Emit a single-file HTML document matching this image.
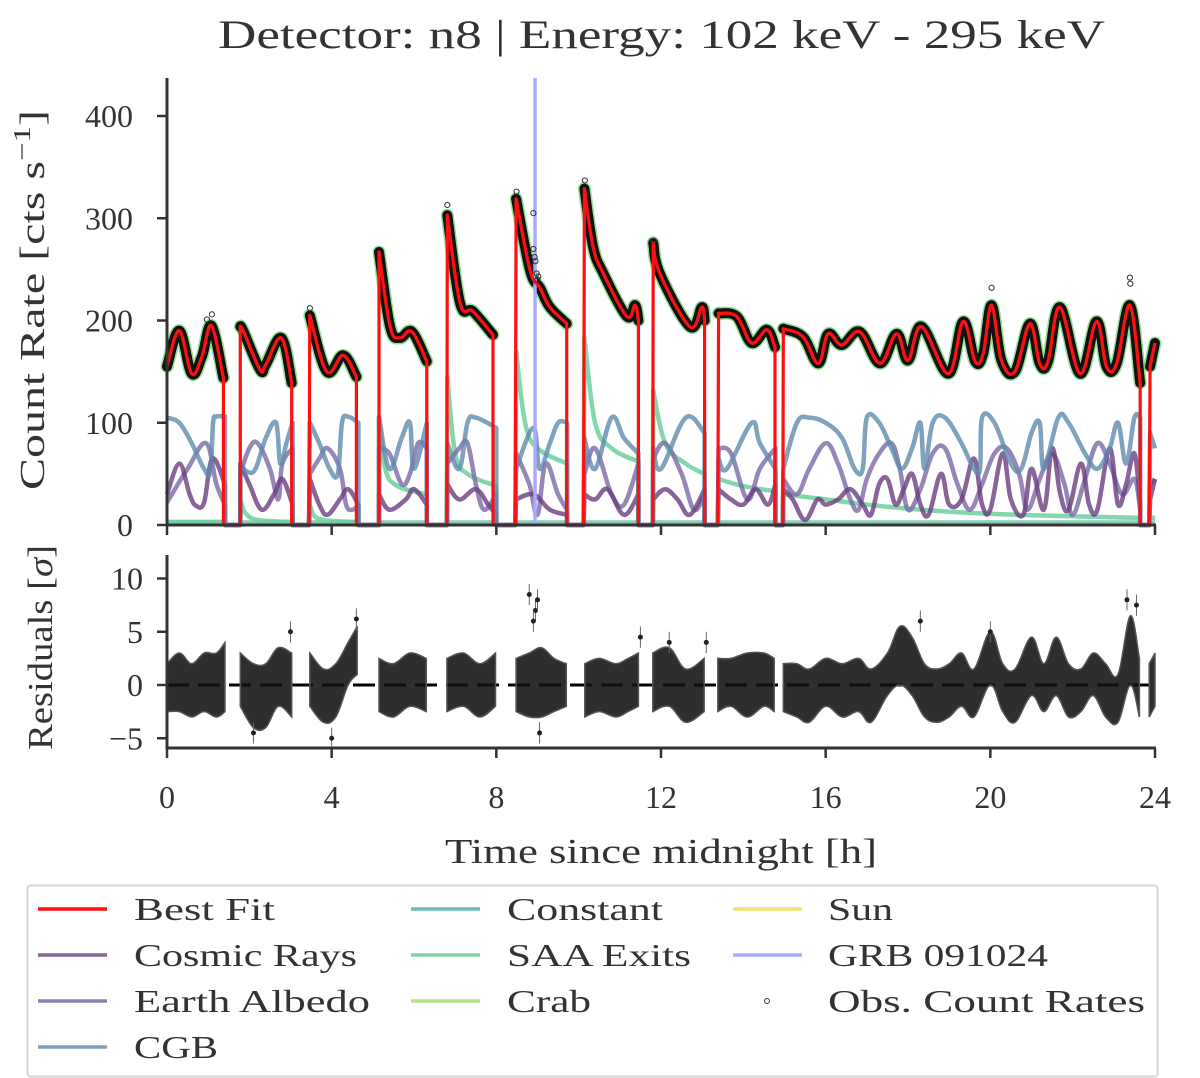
<!DOCTYPE html>
<html><head><meta charset="utf-8"><style>
html,body{margin:0;padding:0;background:#fff;}
svg{display:block;font-family:"Liberation Serif","DejaVu Serif",serif;}
</style></head><body>
<svg id="chart" width="1200" height="1078" viewBox="0 0 1200 1078" xmlns="http://www.w3.org/2000/svg">
<text x="218" y="48" font-size="40" fill="#333" textLength="887" lengthAdjust="spacingAndGlyphs">Detector: n8 | Energy: 102 keV - 295 keV</text>
<g id="upper"></g>
<g id="lower"></g>
<g id="axes"></g>
<text transform="translate(44,490) rotate(-90)" font-size="35" fill="#333" textLength="380" lengthAdjust="spacingAndGlyphs">Count Rate [cts s<tspan dy="-14" font-size="24">−1</tspan><tspan dy="14">]</tspan></text>
<text transform="translate(52,750) rotate(-90)" font-size="35" fill="#333" textLength="205" lengthAdjust="spacingAndGlyphs">Residuals [<tspan font-style="italic">σ</tspan>]</text>
<text x="445" y="863" font-size="35" fill="#333" textLength="432" lengthAdjust="spacingAndGlyphs">Time since midnight [h]</text>
<g>
<rect x="27.5" y="885.5" width="1130" height="191" fill="#fff" stroke="#d6d6d6" stroke-width="2" rx="3"/>
<g id="legend-entries"></g>
</g>
</svg>
<script>
// ---------- data ----------
const segStarts = [0, 1.78, 3.45, 5.15, 6.80, 8.46, 10.12, 11.80, 13.38, 14.96, 23.86];
const segEnds   = [1.41, 3.05, 4.65, 6.31, 8.00, 9.72, 11.45, 13.06, 14.78, 23.64, 24.0];
const fitT = [
 [0,0.3,0.6,0.85,1.08,1.37],
 [1.78,1.85,2.26,2.4,2.78,3.03],
 [3.47,3.88,4.28,4.6],
 [5.15,5.42,5.66,5.95,6.31],
 [6.81,7.12,7.43,7.92],
 [8.48,8.82,9.06,9.3,9.71],
 [10.14,10.35,10.6,11.17,11.37,11.45],
 [11.81,11.97,12.7,12.99,13.06],
 [13.4,13.84,14.2,14.57,14.77],
 [14.97,15.45,15.82,16.06,16.39,16.83,17.32,17.72,18.0,18.33,18.98,19.34,19.63,19.83,20.03,20.27,20.6,20.96,21.2,21.4,21.69,22.18,22.58,22.82,23.07,23.39,23.64],
 [23.88,24.0]
];
const fitV = [
 [155,190,148,165,195,144],
 [194,190,152,157,183,139],
 [205,150,166,145],
 [267,194,183,189,160],
 [303,217,209,186],
 [319,249,232,213,197],
 [329,272,246,204,215,200],
 [276,246,194,213,200],
 [207,204,178,191,174],
 [192,184,158,187,176,189,158,187,161,194,148,199,160,168,215,161,150,197,158,160,213,148,199,155,158,215,139],
 [155,178]
];
const cgbT = [
 [0,0.3,0.6,0.9,1.05,1.12,1.2,1.41],
 [1.78,1.95,2.15,2.4,2.65,2.75,2.9,3.05],
 [3.47,3.7,3.95,4.15,4.25,4.4,4.65],
 [5.15,5.4,5.7,5.9,6.0,6.31],
 [6.81,7.1,7.3,7.5,8.0],
 [8.48,8.9,9.05,9.3,9.5,9.72],
 [10.14,10.4,10.8,11.1,11.45],
 [11.81,12.0,12.6,13.06],
 [13.4,13.6,14.2,14.4,14.78],
 [14.97,15.3,15.6,16.0,16.4,16.7,16.9,17.0,17.3,17.6,17.85,18.1,18.3,18.4,18.6,18.9,19.3,19.6,19.75,19.8,20.1,20.5,20.75,21.0,21.2,21.3,21.65,21.9,22.3,22.6,22.9,23.1,23.3,23.5,23.64],
 [23.88,24.0]
];
const cgbV = [
 [105,100,80,55,52,100,106,106],
 [60,52,55,85,100,60,80,100],
 [100,80,55,50,100,106,100],
 [106,55,85,100,55,100],
 [80,55,100,105,95],
 [55,95,55,80,100,100],
 [85,55,105,85,70],
 [75,55,105,90],
 [65,55,100,80,55],
 [55,100,105,100,85,55,55,105,100,75,55,75,100,55,100,105,80,55,55,105,100,60,55,90,100,55,105,100,70,55,75,100,60,105,105],
 [90,75]
];
const crT = [
 [0,0.3,0.55,0.7,0.9,1.1,1.41],
 [1.78,2.0,2.3,2.6,2.8,3.05],
 [3.47,3.7,3.9,4.2,4.4,4.65],
 [5.15,5.4,5.8,6.0,6.31],
 [6.81,7.1,7.5,7.8,8.0],
 [8.48,8.9,9.3,9.72],
 [10.14,10.4,10.7,11.1,11.45],
 [11.81,12.1,12.4,12.7,13.06],
 [13.4,13.7,14.0,14.3,14.6,14.78],
 [14.97,15.2,15.5,15.8,16.0,16.3,16.6,16.9,17.1,17.3,17.5,17.7,17.9,18.1,18.3,18.5,18.8,19.0,19.3,19.6,19.8,20.0,20.3,20.5,20.8,21.0,21.3,21.5,21.7,21.9,22.2,22.4,22.6,22.9,23.1,23.3,23.5,23.64],
 [23.88,24.0]
];
const crV = [
 [30,60,30,19,22,65,40],
 [60,40,15,30,45,20],
 [45,20,10,25,35,20],
 [30,15,25,35,20],
 [40,25,35,20,10],
 [25,30,15,10],
 [30,25,35,10,30],
 [25,35,25,10,35],
 [35,25,20,35,20,40],
 [35,25,5,25,20,25,35,20,10,40,45,20,35,50,20,10,50,20,25,65,20,15,70,25,10,55,15,75,30,15,60,20,15,75,20,40,70,20],
 [25,45]
];
const alT = [
 [0,0.5,0.95,1.2,1.41],
 [1.78,2.0,2.2,2.5,2.7,2.8,3.05],
 [3.47,3.7,3.9,4.2,4.35,4.5,4.65],
 [5.15,5.4,5.7,5.9,6.1,6.31],
 [6.81,7.1,7.3,7.5,7.7,8.0],
 [8.48,8.8,9.0,9.2,9.5,9.72],
 [10.14,10.4,10.8,11.1,11.45],
 [11.81,12.1,12.5,12.8,13.06],
 [13.4,13.7,14.1,14.4,14.78],
 [14.97,15.3,15.6,16.0,16.3,16.6,16.8,17.0,17.3,17.6,17.8,18.0,18.3,18.6,18.9,19.2,19.5,19.8,20.1,20.4,20.7,20.9,21.2,21.5,21.8,22.0,22.3,22.6,22.9,23.2,23.5,23.64],
 [23.88,24.0]
];
const alV = [
 [22,55,80,40,20],
 [50,75,80,55,25,60,75],
 [50,65,75,55,20,15,20],
 [75,70,40,50,80,75],
 [60,75,80,40,15,30],
 [70,40,10,60,30,15],
 [50,75,30,20,60],
 [65,80,50,15,30],
 [75,70,25,55,75],
 [45,30,55,80,60,25,15,45,70,80,55,15,35,70,75,40,15,40,70,75,50,15,45,70,40,10,45,80,60,30,45,15],
 [40,45]
];
const saaT = [
 [0,1.41],
 [1.78,1.9,2.2,3.05],
 [3.47,3.6,4.0,4.65],
 [5.15,5.3,5.6,6.31],
 [6.81,7.0,7.3,8.0],
 [8.48,8.7,9.0,9.72],
 [10.14,10.4,10.8,11.45],
 [11.81,12.1,12.6,13.06],
 [13.4,14.0,14.78],
 [14.97,16,17,18,19,20,21,22,23,23.64],
 [23.88,24.0]
];
const saaV = [
 [3,3],
 [25,12,5,3],
 [20,8,4,3],
 [105,55,38,30],
 [145,70,50,38],
 [170,100,75,60],
 [183,100,75,62],
 [132,80,60,50],
 [45,38,33],
 [30,25,20,16,13,11,9.5,8.5,7.5,7],
 [7,7]
];
const constVal = 3, crabVal = 1.8, sunVal = 0.8;
const grbTime = 8.94;
const outT = [0.97,1.09,3.47,6.81,8.49,8.9,8.9,8.93,8.95,8.98,9.0,9.02,10.15,11.82,20.03,23.39,23.4];
const outV = [201,206,212,313,326,305,270,262,258,246,240,243,337,278,232,242,236];
// residuals
const resT = [
 [0,0.3,0.6,0.9,1.2,1.41],
 [1.78,2.1,2.4,2.7,3.03],
 [3.47,3.8,4.1,4.4,4.62],
 [5.15,5.5,5.9,6.3],
 [6.8,7.2,7.6,7.98],
 [8.48,8.8,9.1,9.4,9.7],
 [10.15,10.5,10.9,11.2,11.45],
 [11.8,12.2,12.6,13.05],
 [13.38,13.7,14.1,14.5,14.75],
 [14.97,15.3,15.6,16.0,16.4,16.8,17.1,17.5,17.8,18.1,18.4,18.7,19.0,19.3,19.6,20.0,20.3,20.6,21.0,21.3,21.6,21.9,22.2,22.5,22.8,23.1,23.4,23.62],
 [23.86,24.0]
];
const resLo = [
 [-2.5,-2.5,-3,-2.5,-3,-2.5],
 [-2,-4,-4,-2,-3],
 [-2,-3.5,-3,0,1],
 [-2.5,-3,-2,-2.5],
 [-2.5,-2,-3,-2],
 [-2.5,-3,-3,-2.5,-2],
 [-3,-2.5,-3,-2.5,-2],
 [-2.5,-2,-3.5,-2.5],
 [-2.5,-2,-3,-2,-2.5],
 [-2.5,-3,-3.5,-2,-3,-2.5,-3.5,-1,0,-1,-3,-3.5,-3,-2,-3,0,-2.5,-3.5,-1,-2.5,-1,-3,-2.5,-1,-3,-3.5,0,-3],
 [-3,-2]
];
const resHi = [
 [2,3,2,3,3,4],
 [3,2,2,3.5,3],
 [3,1.5,2,4,5.5],
 [2.5,2,3,2.5],
 [2.5,3,2,3],
 [2.5,3,3.5,2.5,2],
 [2,2.5,2,2.5,3],
 [3,3.5,1.5,2.5],
 [2.5,2.5,3,3,2.5],
 [2,2,1.5,2.5,2,2.5,1.5,3,5.5,4.5,2,1.5,2,3,1.5,5,2,1.5,4.5,2,4.5,2,1.5,3,2,1,6.5,2.5],
 [2,3]
];
const resOutT = [8.8,8.95,9.0,8.9,4.6,23.32,23.55,4.0,11.5,3.0,12.2,9.05,2.1,13.1,18.3,20.0];
const resOutV = [8.5,7,8,6,6.2,8,7.5,-5,4.5,5,4,-4.5,-4.5,4,6,5];
const yTicks = [0,100,200,300,400];
const rTicks = [-5,0,5,10];
const xTicks = [0,4,8,12,16,20,24];
const rTickLabels = ["−5","0","5","10"];

// ---------- scales ----------
const X0=167, X1=1155;
const xs = h => X0 + (X1-X0)*h/24;
const ys = v => 525 - v*1.0225;
const rs = v => 685 - v*10.65;
const NS='http://www.w3.org/2000/svg';
function mk(tag, attrs, parent){ const e=document.createElementNS(NS,tag); for(const k in attrs) e.setAttribute(k,attrs[k]); parent.appendChild(e); return e; }
function smooth(pts){
  if(pts.length<2) return '';
  let d='M'+pts[0][0].toFixed(1)+','+pts[0][1].toFixed(1);
  for(let i=0;i<pts.length-1;i++){
    const p0=pts[Math.max(0,i-1)],p1=pts[i],p2=pts[i+1],p3=pts[Math.min(pts.length-1,i+2)];
    const t=0.18;
    const c1=[p1[0]+(p2[0]-p0[0])*t, p1[1]+(p2[1]-p0[1])*t];
    const c2=[p2[0]-(p3[0]-p1[0])*t, p2[1]-(p3[1]-p1[1])*t];
    d+=' C'+c1[0].toFixed(1)+','+c1[1].toFixed(1)+' '+c2[0].toFixed(1)+','+c2[1].toFixed(1)+' '+p2[0].toFixed(1)+','+p2[1].toFixed(1);
  }
  return d;
}
function compPath(T,V){
  let d='';
  for(let s=0;s<T.length;s++){
    const pts=T[s].map((t,i)=>[xs(t),ys(V[s][i])]);
    let seg=smooth(pts);
    if(s===0){ d+=seg; }
    else { d+=' L'+xs(segStarts[s]).toFixed(1)+','+ys(0).toFixed(1)+' L'+seg.slice(1); }
    if(s<T.length-1){ d+=' L'+pts[pts.length-1][0].toFixed(1)+','+ys(0).toFixed(1)+' L'+xs(segStarts[s+1]).toFixed(1)+','+ys(0).toFixed(1); }
  }
  return d;
}
function flatPath(v){
  let d='';
  for(let s=0;s<segStarts.length;s++){
    d+=(s?' L':'M')+xs(segStarts[s]).toFixed(1)+','+ys(s?0:v).toFixed(1);
    d+=' L'+xs(segStarts[s]).toFixed(1)+','+ys(v).toFixed(1)+' L'+xs(segEnds[s]).toFixed(1)+','+ys(v).toFixed(1);
    if(s<segStarts.length-1) d+=' L'+xs(segEnds[s]).toFixed(1)+','+ys(0).toFixed(1);
  }
  return d;
}
const up=document.getElementById('upper');
const comps=[
 ['sun-line', flatPath(sunVal), '#f1e56b',3.5,0.9],
 ['crab-line', flatPath(crabVal), '#b7e38a',3.5,0.9],
 ['constant-line', flatPath(constVal), '#6fbdb6',3.5,0.7],
 ['saa-exits-line', compPath(saaT,saaV), '#6fcf9f',4.5,0.85],
 ['earth-albedo-line', compPath(alT,alV), '#7a6aa8',4.5,0.8],
 ['cosmic-rays-line', compPath(crT,crV), '#6b3d7f',4.5,0.8],
 ['cgb-line', compPath(cgbT,cgbV), '#5f8bad',4.5,0.8],
];
for(const c of comps){
  const p=mk('path',{d:c[1],fill:'none',stroke:c[2],'stroke-width':c[3],'stroke-opacity':c[4],'stroke-linejoin':'round'},up);
  
  
}
for(let s=0;s<fitT.length;s++){
  const pts=fitT[s].map((t,i)=>[xs(t),ys(fitV[s][i])]);
  const d=smooth(pts);
  const g=mk('path',{d:d,fill:'none',stroke:'#3cc43c','stroke-width':13,'stroke-opacity':0.55,'stroke-linecap':'round'},up);
  
  
  const b=mk('path',{d:d,fill:'none',stroke:'#111','stroke-width':10,'stroke-linecap':'round'},up);
  
  
}
const grb=mk('line',{x1:xs(grbTime),x2:xs(grbTime),y1:78,y2:525,stroke:'#aaaaff','stroke-width':3.5},up);


const bf=mk('path',{d:compPath(fitT,fitV),fill:'none',stroke:'#ff1010','stroke-width':3.2,'stroke-linejoin':'round'},up);


for(let i=0;i<outT.length;i++){
  const c=mk('circle',{cx:xs(outT[i]),cy:ys(outV[i]),r:2.6,fill:'none',stroke:'#333','stroke-width':1},up);
  
  
}
const lo=document.getElementById('lower');
const zl=mk('line',{x1:xs(0),x2:xs(24),y1:rs(0),y2:rs(0),stroke:'#000','stroke-width':3,'stroke-dasharray':'22,9'},lo);


for(let s=0;s<resT.length;s++){
  const top=resT[s].map((t,i)=>[xs(t),rs(resHi[s][i])]);
  const bot=resT[s].map((t,i)=>[xs(t),rs(resLo[s][i])]).reverse();
  const d=smooth(top)+' L'+smooth(bot).slice(1)+' Z';
  const p=mk('path',{d:d,fill:'#111','fill-opacity':0.88,stroke:'#555','stroke-width':1.5},lo);
  
  
}
for(let i=0;i<resOutT.length;i++){
  const eb=mk('line',{x1:xs(resOutT[i]),x2:xs(resOutT[i]),y1:rs(resOutV[i]-1),y2:rs(resOutV[i]+1),stroke:'#666','stroke-width':1},lo);
  
  
  const c=mk('circle',{cx:xs(resOutT[i]),cy:rs(resOutV[i]),r:2.5,fill:'#222'},lo);
  
  
}
const ax=document.getElementById('axes');
const AC='#333';
function ln(x1,y1,x2,y2,w,name){ const l=mk('line',{x1:x1,y1:y1,x2:x2,y2:y2,stroke:AC,'stroke-width':w},ax);   }
ln(167,78,167,526.5,3,'upper-y-axis-spine');
ln(165.5,525,1156,525,3,'upper-x-axis-spine');
ln(167,555,167,749.5,3,'lower-y-axis-spine');
ln(165.5,748,1156,748,3,'lower-x-axis-spine');
for(const v of yTicks){
  ln(157,ys(v),167,ys(v),2.5,'y-tick');
  const t=mk('text',{x:133,y:ys(v)+11,'font-size':32,'text-anchor':'end',fill:AC},ax);
  t.textContent=v;
  
  
}
for(let i=0;i<rTicks.length;i++){
  const v=rTicks[i];
  ln(157,rs(v),167,rs(v),2.5,'residual-tick');
  const t=mk('text',{x:143,y:rs(v)+11,'font-size':32,'text-anchor':'end',fill:AC},ax);
  t.textContent=rTickLabels[i];
  
  
}
for(const h of xTicks){
  ln(xs(h),525,xs(h),535,2.5,'upper-x-tick');
  ln(xs(h),748,xs(h),758,2.5,'x-tick');
  const t=mk('text',{x:xs(h),y:808,'font-size':32,'text-anchor':'middle',fill:AC},ax);
  t.textContent=h;
  
  
}
const legNames=['Best Fit','Cosmic Rays','Earth Albedo','CGB','Constant','SAA Exits','Crab','Sun','GRB 091024','Obs. Count Rates'];
const legWidths=[141,223,236,84,156,184,84,65,220,317];
const legColors=['#ff1010','#8b6497','#8a82b4','#7fa2bc','#6fbdb6','#80d3a8','#b7e38a','#f1e56b','#aaaaff',''];
const legCols=[[38,134],[411,507],[733,828]];
const lg=document.getElementById('legend-entries');
for(let i=0;i<legNames.length;i++){
  const col=i<4?0:(i<7?1:2);
  const row=i<4?i:(i<7?i-4:i-7);
  const y=909+row*46;
  const [lx,tx]=legCols[col];
  const g=mk('g',{},lg);
  
  
  if(legColors[i]) mk('line',{x1:lx,x2:lx+69,y1:y,y2:y,stroke:legColors[i],'stroke-width':3.5},g);
  else mk('circle',{cx:lx+34,cy:y,r:2.5,fill:'none',stroke:'#333','stroke-width':1},g);
  const t=mk('text',{x:tx,y:y+11,'font-size':32,fill:AC,textLength:legWidths[i],lengthAdjust:'spacingAndGlyphs'},g);
  t.textContent=legNames[i];
}
</script>
</body></html>
